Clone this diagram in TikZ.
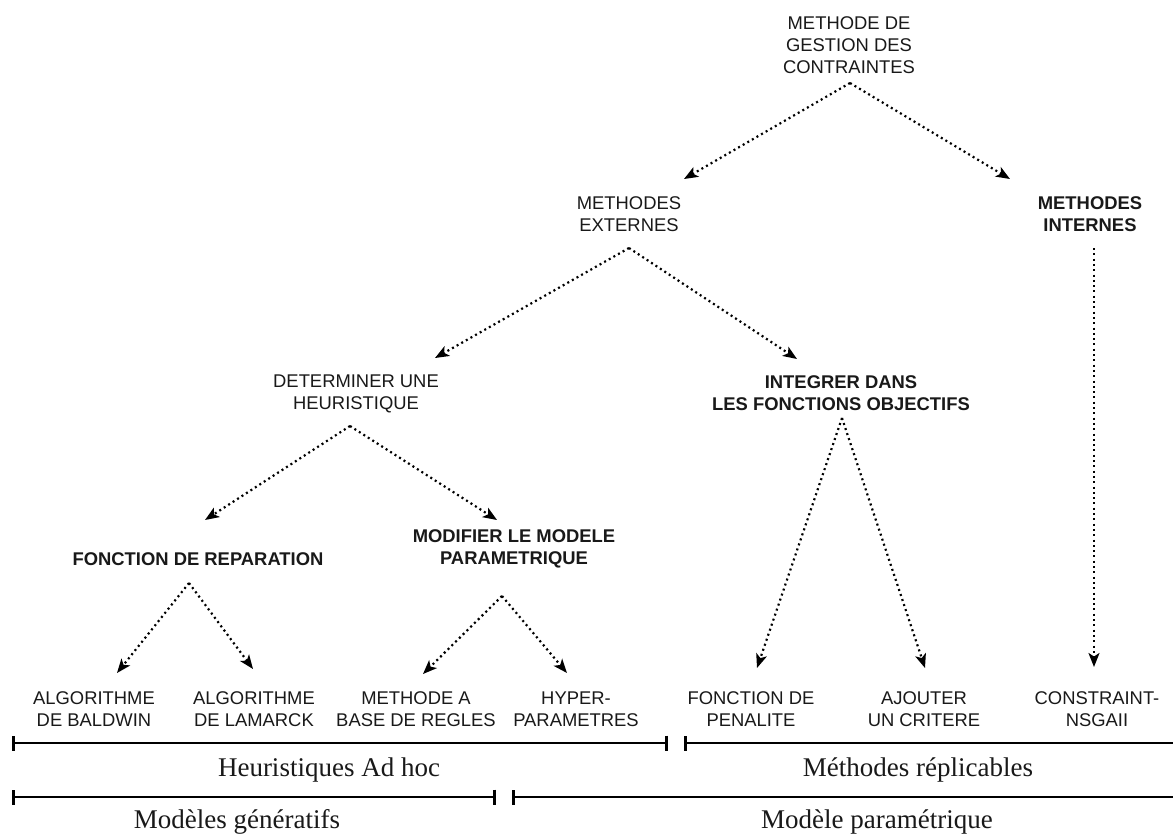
\documentclass[tikz,border=0pt]{standalone}
\usepackage{fontspec}
\setmainfont{Liberation Sans}
\newfontfamily\seriffam{Liberation Serif}
\usetikzlibrary{arrows.meta}
\begin{document}
\begin{tikzpicture}[x=1pt,y=-1pt,
  lbl/.style={align=center,inner sep=0pt,text=black!90,font=\fontsize{18.4}{22}\selectfont},
  lblb/.style={lbl,font=\fontsize{18.4}{22}\selectfont\bfseries},
  grp/.style={anchor=base,inner sep=0pt,text=black!90,font=\seriffam\fontsize{27}{30}\selectfont},
  arr/.style={line width=2.2pt,dash pattern=on 2pt off 3.3pt,
    -{Stealth[length=14pt,width=11pt,inset=3.5pt]}},
  scalebar/.style={line width=2.6pt}
]
\useasboundingbox[fill=white] (0,0) rectangle (1173,836);

% nodes
\node[lbl]  (root)  at (849,45)    {METHODE DE\\GESTION DES\\CONTRAINTES};
\node[lbl]  (ext)   at (629,214)   {METHODES\\EXTERNES};
\node[lblb] (int)   at (1090,214)  {METHODES\\INTERNES};
\node[lbl]  (det)   at (356,394)   {DETERMINER UNE\\HEURISTIQUE};
\node[lblb] (integ) at (841,393)   {INTEGRER DANS\\LES FONCTIONS OBJECTIFS};
\node[lblb] (frep)  at (198,559)   {FONCTION DE REPARATION};
\node[lblb] (mod)   at (514,548.5) {MODIFIER LE MODELE\\PARAMETRIQUE};
\node[lbl]  (bald)  at (94,709)    {ALGORITHME\\DE BALDWIN};
\node[lbl]  (lam)   at (254,709)   {ALGORITHME\\DE LAMARCK};
\node[lbl]  (regl)  at (416,709)   {METHODE A\\BASE DE REGLES};
\node[lbl]  (hyp)   at (576,709)   {HYPER-\\PARAMETRES};
\node[lbl]  (pen)   at (751,709)   {FONCTION DE\\PENALITE};
\node[lbl]  (crit)  at (924,709)   {AJOUTER\\UN CRITERE};
\node[lbl]  (nsga)  at (1097,709)  {CONSTRAINT-\\NSGAII};

% connectors
\draw[arr] ([xshift=1pt,yshift=-38pt]root.center) -- ([xshift=55pt,yshift=35pt]ext.center);
\draw[arr] ([xshift=1pt,yshift=-38pt]root.center) -- ([xshift=-80pt,yshift=35pt]int.center);
\draw[arr] ([yshift=-34pt]ext.center) -- ([xshift=79pt,yshift=36pt]det.center);
\draw[arr] ([yshift=-34pt]ext.center) -- ([xshift=-44pt,yshift=34pt]integ.center);
\draw[arr] ([xshift=4pt,yshift=-34pt]int.center) -- ([xshift=-3pt,yshift=42pt]nsga.center);
\draw[arr] ([xshift=-6pt,yshift=-32pt]det.center) -- ([xshift=7pt,yshift=39pt]frep.center);
\draw[arr] ([xshift=-6pt,yshift=-32pt]det.center) -- ([xshift=-17pt,yshift=28.5pt]mod.center);
\draw[arr] ([xshift=1pt,yshift=-25pt]integ.center) -- ([xshift=6pt,yshift=41pt]pen.center);
\draw[arr] ([xshift=1pt,yshift=-25pt]integ.center) -- ([xshift=1pt,yshift=41pt]crit.center);
\draw[arr] ([xshift=-9pt,yshift=-24pt]frep.center) -- ([xshift=23pt,yshift=36pt]bald.center);
\draw[arr] ([xshift=-9pt,yshift=-24pt]frep.center) -- ([xshift=-1pt,yshift=40pt]lam.center);
\draw[arr] ([xshift=-12pt,yshift=-47.5pt]mod.center) -- ([xshift=7pt,yshift=35pt]regl.center);
\draw[arr] ([xshift=-12pt,yshift=-47.5pt]mod.center) -- ([xshift=-9pt,yshift=36pt]hyp.center);

% group bars
\draw[scalebar,{Bar[width=15pt]}-{Bar[width=15pt]}] (12,743) -- (668,743);
\draw[scalebar,{Bar[width=15pt]}-] (684,743) -- (1176,743);
\draw[scalebar,{Bar[width=15pt]}-{Bar[width=15pt]}] (12,797) -- (496,797);
\draw[scalebar,{Bar[width=15pt]}-] (512,797) -- (1176,797);

\node[grp] (g1) at (329,776.5) {Heuristiques Ad hoc};
\node[grp] (g2) at (918,776.5) {Méthodes réplicables};
\node[grp] (g3) at (237,828)   {Modèles génératifs};
\node[grp] (g4) at (877,828)   {Modèle paramétrique};
\end{tikzpicture}
\end{document}
